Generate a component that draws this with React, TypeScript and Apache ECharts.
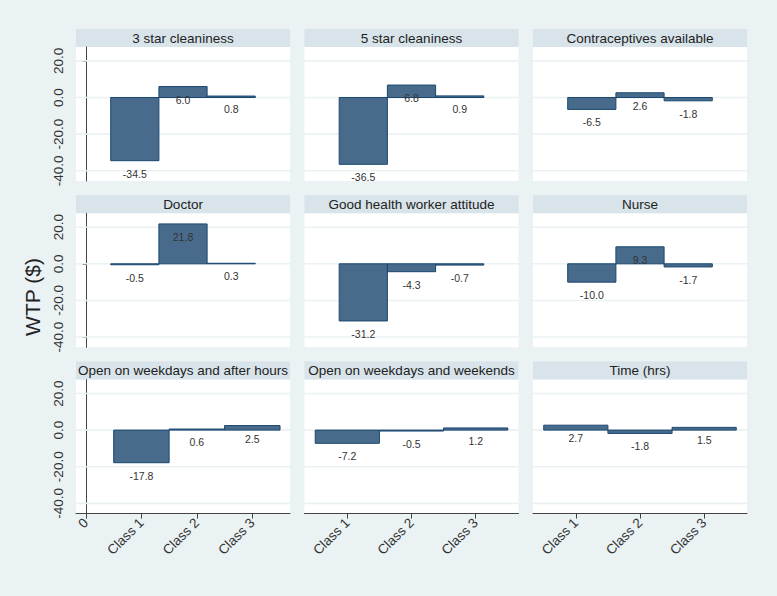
import React, { useEffect, useRef } from "react";
import * as echarts from "echarts";

const panelTitles = [
  "3 star cleaniness",
  "5 star cleaniness",
  "Contraceptives available",
  "Doctor",
  "Good health worker attitude",
  "Nurse",
  "Open on weekdays and after hours",
  "Open on weekdays and weekends",
  "Time (hrs)",
];
const classPositions = [1, 2, 3];
const xTickLabels = ["0", "Class 1", "Class 2", "Class 3"];
const star3 = [-34.5, 6.0, 0.8];
const star5 = [-36.5, 6.8, 0.9];
const contraceptives = [-6.5, 2.6, -1.8];
const doctor = [-0.5, 21.8, 0.3];
const attitude = [-31.2, -4.3, -0.7];
const nurse = [-10.0, 9.3, -1.7];
const afterHours = [-17.8, 0.6, 2.5];
const weekends = [-7.2, -0.5, 1.2];
const timeHrs = [2.7, -1.8, 1.5];
const panelValues = [star3, star5, contraceptives, doctor, attitude, nurse, afterHours, weekends, timeHrs];
const yTicks = [-40, -20, 0, 20];
const yMin = -45.6;
const yMax = 27.6;
const yTitle = "WTP ($)";

const FONT = '"Liberation Sans", Arial, sans-serif';
const BAR_FILL = "#486b8c";
const BAR_STROKE = "#1a476f";
const BG = "#eaf2f3";
const STRIP = "#d8e4ea";

export default function App() {
  const ref = useRef<HTMLDivElement>(null);
  useEffect(() => {
    const chart = echarts.init(ref.current!, undefined, { renderer: "svg" });
    const colLeft = [76, 304.5, 533];
    const rowTop = [47, 213.3, 379.6];
    const W = 214;
    const H = 134;
    const stripH = 18;

    const grids: any[] = [];
    const xAxes: any[] = [];
    const yAxes: any[] = [];
    const series: any[] = [];
    const graphics: any[] = [];

    for (let i = 0; i < 9; i++) {
      const r = Math.floor(i / 3);
      const c = i % 3;
      let xr: [number, number] = [-0.22, 4.22];
      let ticks = [1, 2, 3];
      if (r === 2) {
        if (c === 0) {
          xr = [-0.18, 3.68];
          ticks = [0, 1, 2, 3];
        } else {
          xr = [0.333, 3.667];
        }
      }
      grids.push({
        left: colLeft[c],
        top: rowTop[r],
        width: W,
        height: H,
        show: true,
        backgroundColor: "#ffffff",
        borderWidth: 0,
      });
      const bottomRow = r === 2;
      xAxes.push({
        gridIndex: i,
        type: "value",
        min: xr[0],
        max: xr[1],
        show: true,
        axisLine: { show: bottomRow, onZero: false, lineStyle: { color: "#444", width: 1 } },
        axisTick: { show: bottomRow, length: 5, customValues: ticks, lineStyle: { color: "#444" } },
        axisLabel: {
          show: bottomRow,
          customValues: ticks,
          rotate: 45,
          margin: 7,
          fontSize: 13.5,
          fontFamily: FONT,
          color: "#333",
          formatter: (v: number) => xTickLabels[Math.round(v)] ?? "",
        },
        splitLine: { show: false },
      });
      const leftCol = c === 0;
      yAxes.push({
        gridIndex: i,
        type: "value",
        min: yMin,
        max: yMax,
        axisLine: { show: leftCol, lineStyle: { color: "#444", width: 1 } },
        axisTick: { show: leftCol, length: 4, customValues: yTicks, lineStyle: { color: "#444" } },
        axisLabel: {
          show: leftCol,
          customValues: yTicks,
          rotate: 90,
          margin: 11,
          fontSize: 13.5,
          fontFamily: FONT,
          color: "#333",
          formatter: (v: number) => v.toFixed(1),
        },
        splitLine: { show: false },
      });
      // grid lines
      series.push({
        type: "custom",
        xAxisIndex: i,
        yAxisIndex: i,
        silent: true,
        z: 1,
        data: yTicks.map((v) => [v]),
        encode: { y: 0 },
        renderItem: (params: any, api: any) => {
          const v = api.value(0);
          const a = api.coord([xr[0], v]);
          const b = api.coord([xr[1], v]);
          return {
            type: "line",
            shape: { x1: a[0], y1: a[1], x2: b[0], y2: b[1] },
            style: { stroke: BG, lineWidth: 1.6 },
          };
        },
      });
      // bars
      const vals = panelValues[i];
      series.push({
        type: "custom",
        xAxisIndex: i,
        yAxisIndex: i,
        silent: true,
        z: 2,
        data: classPositions.map((p, k) => [p, vals[k]]),
        encode: { x: 0, y: 1 },
        renderItem: (params: any, api: any) => {
          const x = api.value(0);
          const v = api.value(1);
          const p0 = api.coord([x - 0.5, 0]);
          const p1 = api.coord([x + 0.5, v]);
          const lab = api.coord([x, v]);
          return {
            type: "group",
            children: [
              {
                type: "rect",
                shape: {
                  x: p0[0],
                  y: Math.min(p0[1], p1[1]),
                  width: p1[0] - p0[0],
                  height: Math.abs(p1[1] - p0[1]),
                },
                style: { fill: BAR_FILL, stroke: BAR_STROKE, lineWidth: 1 },
              },
              {
                type: "text",
                x: lab[0],
                y: lab[1] + 13,
                z2: 10,
                style: {
                  text: v.toFixed(1),
                  fill: "#333",
                  font: `10.5px ${FONT}`,
                  align: "center",
                  verticalAlign: "middle",
                },
              },
            ],
          };
        },
      });
      // strip
      graphics.push({
        type: "rect",
        shape: { x: colLeft[c], y: rowTop[r] - stripH, width: W, height: stripH },
        style: { fill: STRIP },
        silent: true,
      });
      graphics.push({
        type: "text",
        x: colLeft[c] + W / 2,
        y: rowTop[r] - stripH / 2,
        style: {
          text: panelTitles[i],
          fill: "#222",
          font: `13.5px ${FONT}`,
          align: "center",
          verticalAlign: "middle",
        },
        silent: true,
      });
    }
    graphics.push({
      type: "text",
      x: 32,
      y: 297,
      rotation: Math.PI / 2,
      style: {
        text: yTitle,
        fill: "#222",
        font: `21px ${FONT}`,
        align: "center",
        verticalAlign: "middle",
      },
      silent: true,
    });

    chart.setOption({
      animation: false,
      backgroundColor: BG,
      grid: grids,
      xAxis: xAxes,
      yAxis: yAxes,
      series,
      graphic: graphics,
    });
    return () => chart.dispose();
  }, []);
  return (
    <div
      ref={ref}
      style={{ position: "fixed", left: 0, top: 0, width: 777, height: 596 }}
    />
  );
}
